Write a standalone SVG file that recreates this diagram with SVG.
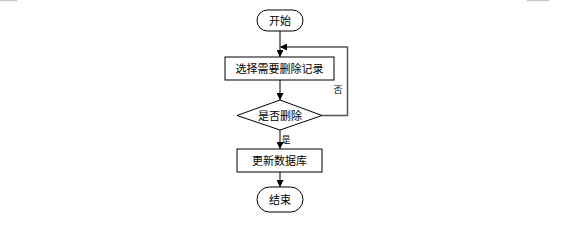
<svg xmlns="http://www.w3.org/2000/svg" width="568" height="225" viewBox="0 0 568 225">
<style>
.s{fill:#fff;stroke:#000;stroke-width:1}
.c{fill:none;stroke:#555;stroke-width:1.5}
.t{font-family:"Liberation Sans","Noto Sans CJK SC",sans-serif;font-size:11px;fill:#000;text-anchor:middle;dominant-baseline:central}
.l{font-family:"Liberation Sans","Noto Sans CJK SC",sans-serif;font-size:9px;fill:#000;text-anchor:middle;dominant-baseline:central}
.m{stroke:#c8c8c8;stroke-width:1.5}
</style>
<defs>
<marker id="a" viewBox="0 0 10 10" refX="10" refY="5" markerWidth="7" markerHeight="7" markerUnits="userSpaceOnUse" orient="auto">
<path d="M0,0 L10,5 L0,10 z" fill="#000"/>
</marker>
</defs>
<rect width="568" height="225" fill="#fff"/>
<line class="m" x1="0" y1="0.5" x2="17" y2="0.5"/>
<line class="m" x1="527" y1="0.5" x2="549" y2="0.5"/>
<g id="connectors">
<line class="c" x1="280" y1="31" x2="280" y2="57" marker-end="url(#a)"/>
<line class="c" x1="280" y1="80" x2="280" y2="100" marker-end="url(#a)"/>
<line class="c" x1="280" y1="130" x2="280" y2="149" marker-end="url(#a)"/>
<line class="c" x1="280" y1="172" x2="280" y2="187" marker-end="url(#a)"/>
<polyline class="c" points="322,115.5 347.5,115.5 347.5,47 280,47" marker-end="url(#a)"/>
<text class="l" x="338" y="90">否</text>
<text class="l" x="286" y="140">是</text>
</g>
<g id="start">
<rect class="s" x="257" y="10" width="46" height="21" rx="10.5"/>
<text class="t" x="280" y="20.5">开始</text>
</g>
<g id="select">
<rect class="s" x="225" y="57" width="109" height="23"/>
<text class="t" x="279.5" y="68.5">选择需要删除记录</text>
</g>
<g id="decide">
<polygon class="s" points="280,100 322,115.5 280,130 237,115.5"/>
<text class="t" x="280" y="115.5">是否删除</text>
</g>
<g id="update">
<rect class="s" x="237" y="149" width="85" height="23"/>
<text class="t" x="279.5" y="160.5">更新数据库</text>
</g>
<g id="end">
<rect class="s" x="257" y="187" width="46" height="25" rx="12.5"/>
<text class="t" x="280" y="199.5">结束</text>
</g>
</svg>
